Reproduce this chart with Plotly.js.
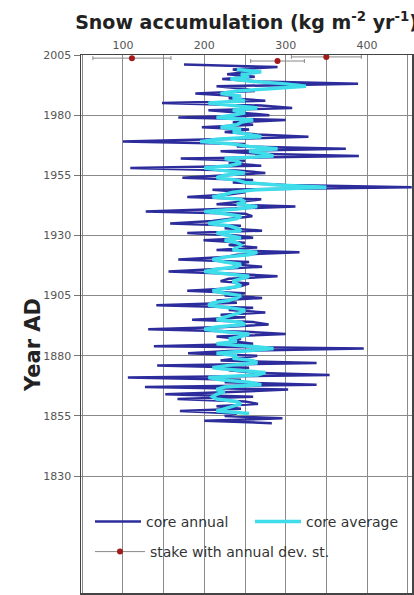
<!DOCTYPE html>
<html>
<head>
<meta charset="utf-8">
<script src="https://cdn.plot.ly/plotly-3.0.1.min.js"></script>
<style>html,body{margin:0;padding:0;background:#fff;}#chart{width:414px;height:595px;}</style>
</head>
<body>
<div id="chart"></div>
<script>
// Core annual snow accumulation (kg m-2 yr-1), years 2001 down to 1852
const annualYears = [];
for (let y = 2001; y >= 1852; y--) annualYears.push(y);
const annualValues = [
  175, 290, 235, 255, 228, 262, 222, 268, 389, 215,
  250, 262, 189, 240, 230, 275, 148, 270, 308, 205,
  245, 280, 168, 300, 235, 260, 197, 255, 225, 265,
  328, 215, 100, 250, 240, 374, 220, 265, 390, 171,
  250, 230, 270, 109, 240, 275, 220, 173, 260, 235,
  300, 455, 210, 250, 230, 179, 270, 245, 215, 312,
  225, 128, 250, 259, 235, 210, 158, 245, 225, 271,
  179, 240, 260, 199, 250, 230, 265, 215, 317, 240,
  225, 168, 255, 235, 271, 205, 156, 240, 290, 230,
  220, 255, 245, 230, 179, 250, 225, 271, 215, 240,
  141, 260, 230, 275, 220, 250, 185, 260, 279, 225,
  131, 250, 300, 215, 245, 235, 260, 138, 396, 230,
  180, 265, 245, 220, 338, 142, 255, 230, 260, 354,
  106, 245, 225, 338, 127, 303, 240, 152, 260, 167,
  250, 266, 215, 245, 170, 240, 225, 296, 200, 283
];
// Core average, years 1999 down to 1856
const averageYears = [];
for (let y = 1999; y >= 1856; y--) averageYears.push(y);
const averageValues = [
  240, 270, 245, 255, 232, 260, 300, 325, 280, 240,
  220, 245, 235, 250, 205, 240, 265, 235, 250, 235,
  215, 260, 245, 240, 220, 245, 235, 255, 270, 215,
  195, 235, 255, 290, 255, 275, 285, 225, 240, 245,
  230, 200, 230, 250, 225, 215, 240, 250, 290, 350,
  265, 235, 225, 210, 245, 250, 240, 265, 240, 200,
  225, 245, 240, 220, 205, 230, 240, 245, 215, 230,
  245, 225, 240, 245, 240, 235, 265, 255, 225, 210,
  225, 245, 240, 215, 200, 230, 255, 245, 235, 240,
  245, 225, 210, 225, 245, 240, 230, 210, 205, 230,
  250, 245, 235, 225, 215, 245, 250, 215, 200, 225,
  255, 245, 230, 240, 215, 255, 285, 250, 215, 240,
  235, 260, 265, 230, 210, 240, 275, 265, 205, 220,
  255, 270, 225, 215, 225, 215, 210, 215, 240, 245,
  235, 225, 215, 255
];
// Stake measurements with annual standard deviation
const stakeYears = [2004.2, 2003.7, 2002.5];
const stakeValues = [350, 111, 290];
const stakeSd = [43, 48, 33];

// Axis ticks
const xTickVals = [50, 100, 150, 200, 250, 300, 350, 400, 450];
const xTickText = ['', '100', '', '200', '', '300', '', '400', ''];
const yTickVals = [1830, 1855, 1880, 1905, 1930, 1955, 1980, 2005];
const yTickText = ['1830', '1855', '1880', '1905', '1930', '1955', '1980', '2005'];

// isolate stake points (no connecting line) while keeping line+marker legend
const sx = [], sy = [], se = [];
stakeValues.forEach((v, i) => {
  if (i > 0) { sx.push(null); sy.push(null); se.push(null); }
  sx.push(v); sy.push(stakeYears[i]); se.push(stakeSd[i]);
});

const traces = [
  {
    type: 'scatter', mode: 'lines', name: 'core annual',
    x: annualValues, y: annualYears,
    line: {color: '#2c2c9c', width: 2.5},
    legend: 'legend'
  },
  {
    type: 'scatter', mode: 'lines', name: 'core average',
    x: averageValues, y: averageYears,
    line: {color: '#3fdcea', width: 3.5},
    legend: 'legend2'
  },
  {
    type: 'scatter', mode: 'lines+markers', name: 'stake with annual dev. st.',
    x: sx, y: sy, connectgaps: false,
    line: {color: '#888', width: 1},
    marker: {color: '#a31a1a', size: 6},
    error_x: {type: 'data', array: se, visible: true, color: '#888', thickness: 1, width: 2},
    legend: 'legend3'
  }
];

const legendBase = {
  orientation: 'v', xanchor: 'left', yanchor: 'top',
  bgcolor: 'rgba(0,0,0,0)', font: {size: 14, color: '#333'},
  itemwidth: 46
};
const layout = {
  width: 414, height: 595,
  margin: {l: 81, r: 2, t: 55, b: 2, pad: 0},
  paper_bgcolor: '#fff', plot_bgcolor: '#fff',
  font: {family: 'DejaVu Sans, sans-serif', color: '#444'},
  title: {
    text: '<b>Snow accumulation (kg m<sup>-2</sup> yr<sup>-1</sup>)</b>',
    font: {family: 'DejaVu Sans, sans-serif', size: 19, color: '#222'},
    x: 0.5, xref: 'paper', xanchor: 'center',
    y: 1 - 22 / 595, yref: 'container', yanchor: 'middle'
  },
  xaxis: {
    side: 'top', range: [48.4, 455.3], tickmode: 'array',
    tickvals: xTickVals, ticktext: xTickText,
    ticks: '', tickfont: {size: 11, color: '#555'},
    showgrid: true, gridcolor: '#8a8a8a', gridwidth: 1,
    showline: true, mirror: true, linecolor: '#444', linewidth: 1.5,
    zeroline: false, fixedrange: true
  },
  yaxis: {
    range: [1781.4, 2005], tickmode: 'array',
    tickvals: yTickVals, ticktext: yTickText,
    ticks: 'outside', ticklen: 6, tickcolor: '#777', tickwidth: 1,
    tickfont: {size: 11, color: '#555'},
    showgrid: true, gridcolor: '#8a8a8a', gridwidth: 1,
    showline: true, mirror: true, linecolor: '#444', linewidth: 1.5,
    zeroline: false, fixedrange: true
  },
  showlegend: true,
  legend: Object.assign({}, legendBase, {x: (90 - 81) / 331, y: 1 - (506 - 55) / 538}),
  legend2: Object.assign({}, legendBase, {x: (250 - 81) / 331, y: 1 - (506 - 55) / 538}),
  legend3: Object.assign({}, legendBase, {x: (90 - 81) / 331, y: 1 - (536 - 55) / 538, itemwidth: 50}),
  annotations: [{
    text: '<b>Year AD</b>', textangle: -90, showarrow: false,
    xref: 'paper', yref: 'paper', x: -0.145, y: 1 - (345 - 55) / 538,
    xanchor: 'center', yanchor: 'middle',
    font: {family: 'DejaVu Sans, sans-serif', size: 21, color: '#222'}
  }]
};

Plotly.newPlot('chart', traces, layout, {displayModeBar: false, staticPlot: true});
</script>
</body>
</html>
